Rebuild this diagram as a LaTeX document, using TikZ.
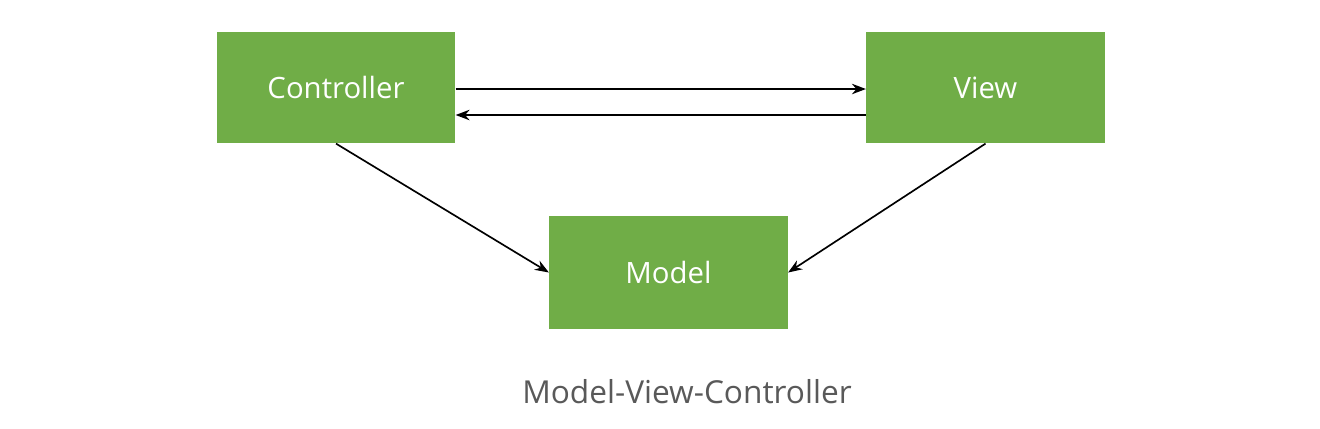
\documentclass[tikz,border=0pt]{standalone}
\usepackage{fontspec}
\setmainfont{Open Sans}
\usetikzlibrary{arrows.meta}
\definecolor{boxgreen}{HTML}{70AD47}
\definecolor{captiongray}{HTML}{595959}

\begin{document}
\begin{tikzpicture}[
    part/.style={fill=boxgreen, text=white, minimum width=4.77cm, minimum height=2.23cm, font=\fontsize{16.7}{20}\selectfont},
    link/.style={-{Stealth[length=2.8mm,width=2.1mm]}, line width=0.95pt}
  ]
  \useasboundingbox (0,0) rectangle (26.4,-8.56);
  \node[part] (controller) at (6.72,-1.75) {Controller};
  \node[part] (view) at (19.71,-1.75) {View};
  \node[part, minimum height=2.26cm] (model) at (13.37,-5.45) {Model};
  \node[text=captiongray, font=\fontsize{18}{22}\selectfont] (caption) at (13.74,-7.84) {Model-View-Controller};
  \draw[link] ([yshift=-0.03cm]controller.east) -- ([yshift=-0.03cm]view.west);
  \draw[link] ([yshift=-0.55cm]view.west) -- ([yshift=-0.55cm]controller.east);
  \draw[link] (controller.south) -- (model.west);
  \draw[link] (view.south) -- (model.east);
\end{tikzpicture}
\end{document}
